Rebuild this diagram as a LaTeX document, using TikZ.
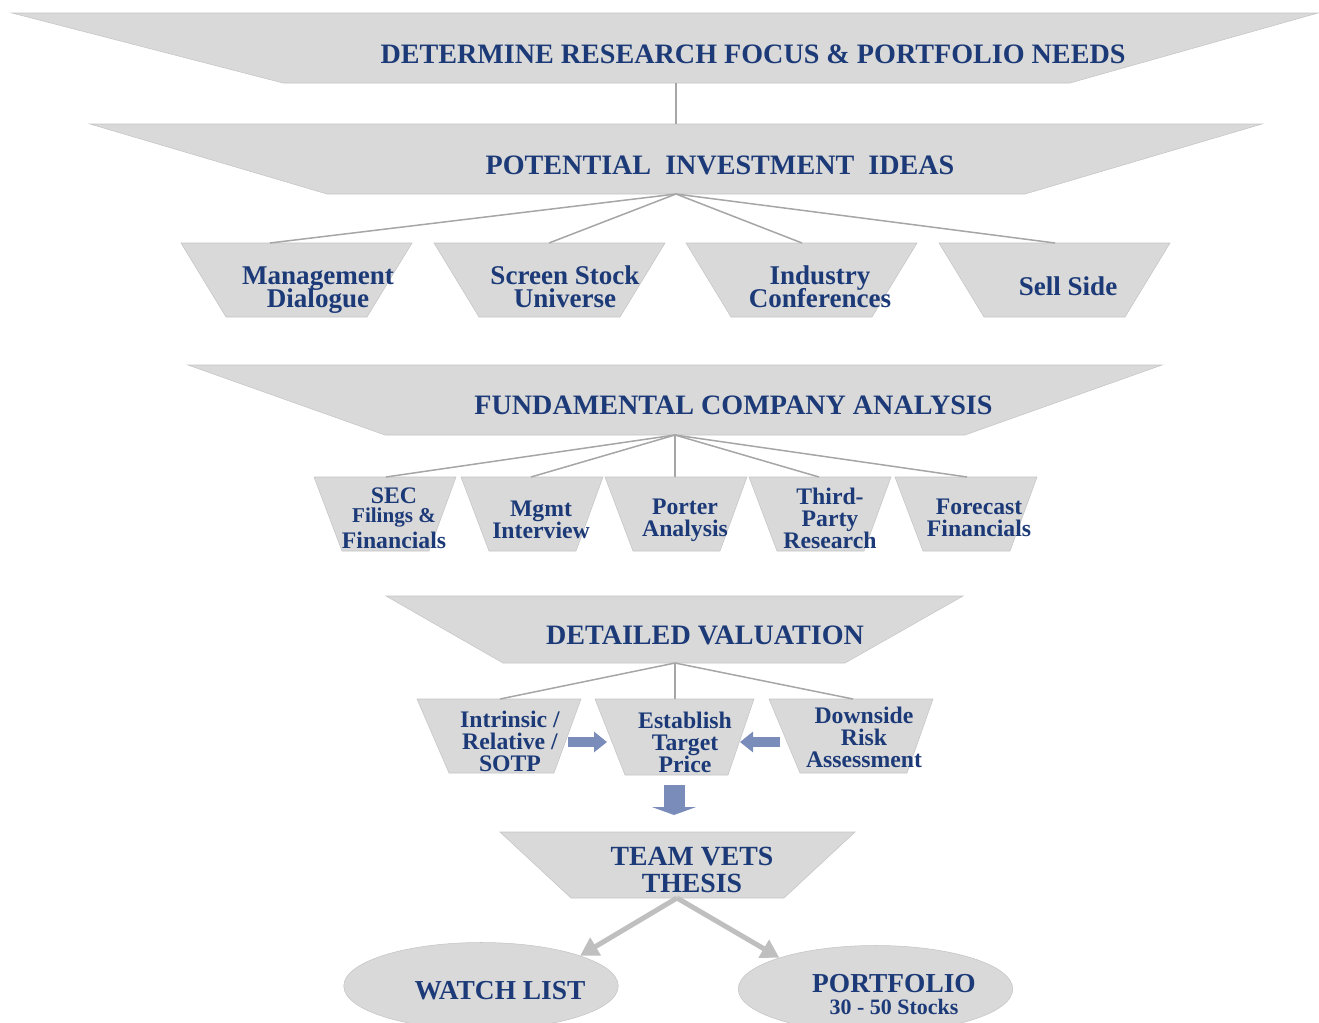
\documentclass[tikz,border=0pt]{standalone}
\usepackage{fontspec}
\setmainfont{Liberation Serif}
\usepackage{xcolor}
\usetikzlibrary{arrows.meta,shapes.geometric}
\definecolor{navy}{HTML}{1C3A78}
\definecolor{stagegray}{HTML}{D9D9D9}
\definecolor{edgegray}{HTML}{C4C4C4}
\definecolor{linkgray}{HTML}{A6A6A6}
\definecolor{flowblue}{HTML}{7A8CB9}
\definecolor{outgray}{HTML}{BFBFBF}
\setlength{\lineskiplimit}{-20pt}
\tikzset{
	stage/.style={fill=stagegray, draw=edgegray, line width=0.3pt},
	link/.style={draw=linkgray, line width=0.3mm},
	headline/.style={text=navy, inner sep=0pt, font=\bfseries\fontsize{16}{18}\selectfont},
	source/.style={text=navy, inner sep=0pt, align=center, font=\bfseries\fontsize{15.4}{13}\selectfont},
	check/.style={text=navy, inner sep=0pt, align=center, font=\bfseries\fontsize{13.5}{12.5}\selectfont},
	push/.style={draw=flowblue, line width=2mm, -{Triangle[width=4mm, length=2.6mm]}},
	drop/.style={draw=flowblue, line width=4.2mm, -{Triangle[width=8.8mm, length=1.6mm]}},
	outcome/.style={draw=outgray, line width=1mm, -{Triangle[width=4mm, length=3.6mm]}},
	pool/.style={ellipse, fill=stagegray, draw=edgegray, line width=0.3pt, minimum width=54.9mm, minimum height=17.4mm, inner sep=0pt},
	result/.style={text=navy, inner sep=0pt, align=center, font=\bfseries\fontsize{15.6}{12.5}\selectfont}
}

\begin{document}
\begin{tikzpicture}[x=0.2mm, y=-0.2mm]
	\clip (0,0) rectangle (1319,1023);

	\filldraw[stage]	(12,13) -- (1318,13) -- (1070,83) -- (283,83) -- cycle;
	\filldraw[stage]	(90,124) -- (1262,124) -- (1025,194) -- (327,194) -- cycle;
	\filldraw[stage]	(188,365) -- (1162,365) -- (965,435) -- (385,435) -- cycle;
	\filldraw[stage]	(386,596) -- (963,596) -- (845,663) -- (503,663) -- cycle;
	\filldraw[stage]	(500,832) -- (855,832) -- (784,898) -- (571,898) -- cycle;

	\node[headline] (focus)		at (753,54.5)	{DETERMINE RESEARCH FOCUS \& PORTFOLIO NEEDS};
	\node[headline] (ideas)		at (720,165)	{POTENTIAL\ \ INVESTMENT\ \ IDEAS};
	\node[headline] (analysis)	at (733.5,405)	{FUNDAMENTAL COMPANY ANALYSIS};
	\node[headline] (valuation)	at (705,635)	{DETAILED VALUATION};
	\node[result, font=\bfseries\fontsize{15.8}{15.4}\selectfont] (thesis) at (692,870) {TEAM VETS\\THESIS};

	\coordinate (focus-out)		at (676,83);
	\coordinate (ideas-in)		at (676,124);
	\coordinate (ideas-out)		at (676,194);
	\coordinate (analysis-out)	at (675,435);
	\coordinate (valuation-out)	at (675,663);
	\coordinate (thesis-out)	at (677,898);

	\draw[link]	(focus-out) -- (ideas-in);

	\foreach \nm/\xa/\xl/\xt/\yt/\txt in {
			dialogue/181/270/318/290/{Management\\Dialogue},
			screen/434/549/565/287/{Screen Stock\\Universe},
			conferences/686/802/820/287/{Industry\\Conferences},
			sellside/939/1055/1068/286/{Sell Side}} {
		\filldraw[stage]	(\xa,243) -- ++(231,0) -- ++(-45,74) -- ++(-141,0) -- cycle;
		\coordinate (\nm-in) at (\xl,243);
		\node[source] (\nm) at (\xt,\yt) {\txt};
		\draw[link]	(ideas-out) -- (\nm-in);
	}

	\foreach \nm/\xa/\xl/\xt/\yt/\txt in {
			sec/314/386/394/518/{SEC\\[-1.7pt]{\fontsize{12}{12}\selectfont Filings \&}\\[2.3pt]Financials},
			interview/461/531/541/519.5/{Mgmt\\Interview},
			porter/605/675/685/520.5/{Porter\\Analysis},
			thirdparty/749/819/830/518/{Third-\\Party\\Research},
			forecast/895/967/979/518/{Forecast\\Financials}} {
		\filldraw[stage]	(\xa,477) -- ++(142,0) -- ++(-27,74) -- ++(-87,0) -- cycle;
		\coordinate (\nm-in) at (\xl,477);
		\node[check] (\nm) at (\xt,\yt) {\txt};
		\draw[link]	(analysis-out) -- (\nm-in);
	}

	\filldraw[stage]	(417,699) -- (581,699) -- (554,773) -- (449,773) -- cycle;
	\filldraw[stage]	(595,699) -- (754,699) -- (728,775) -- (625,775) -- cycle;
	\filldraw[stage]	(769,699) -- (933,699) -- (907,773) -- (800,773) -- cycle;

	\node[check] (intrinsic)	at (510,741)	{Intrinsic /\\Relative /\\SOTP};
	\node[check] (establish)	at (685,742)	{Establish\\Target\\Price};
	\node[check] (downside)		at (864,737)	{Downside\\Risk\\Assessment};

	\coordinate (intrinsic-in)	at (500,699);
	\coordinate (establish-in)	at (675,699);
	\coordinate (downside-in)	at (853,699);
	\foreach \nm in {intrinsic, establish, downside} {
		\draw[link]	(valuation-out) -- (\nm-in);
	}

	\coordinate (intrinsic-out)	at (568,742);
	\coordinate (establish-w)	at (607,742);
	\coordinate (downside-out)	at (780,742);
	\coordinate (establish-e)	at (740,742);
	\coordinate (establish-out)	at (674,785);
	\coordinate (thesis-in)		at (674,815);

	\draw[push]	(intrinsic-out) -- (establish-w);
	\draw[push]	(downside-out) -- (establish-e);
	\draw[drop]	(establish-out) -- (thesis-in);

	\node[pool] (watch)		at (481,986)	{};
	\node[pool] (portfolio)	at (875.5,989)	{};
	\node[result] (watch-t)		at (500,991)	{WATCH LIST};
	\node[result] (portfolio-t)	at (894,994.5)	{PORTFOLIO\\{\fontsize{12.5}{12.5}\selectfont 30 - 50 Stocks}};

	\draw[outcome]	(thesis-out) -- (watch.17);
	\draw[outcome]	(thesis-out) -- (portfolio.162);
\end{tikzpicture}
\end{document}
